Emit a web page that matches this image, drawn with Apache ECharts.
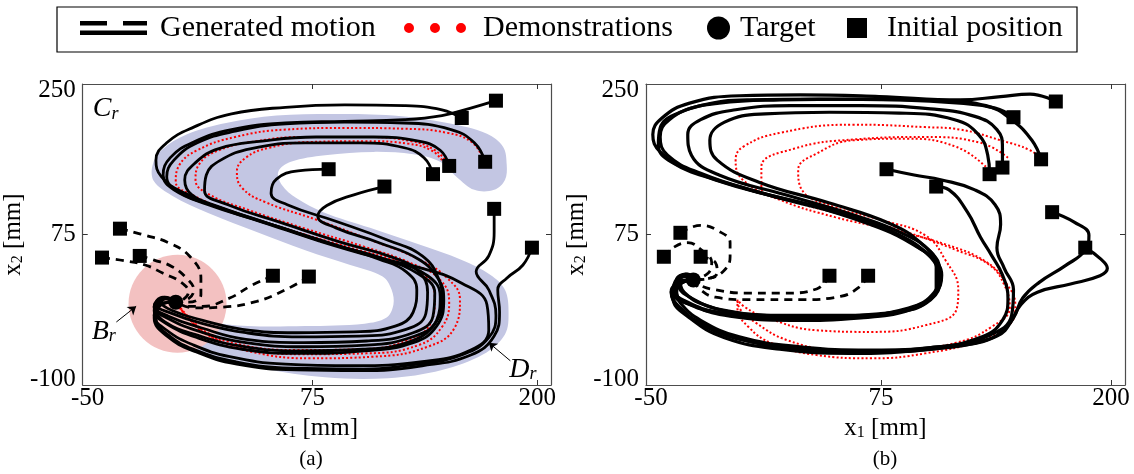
<!DOCTYPE html>
<html><head><meta charset="utf-8">
<script src="https://cdn.jsdelivr.net/npm/echarts@6/dist/echarts.min.js"></script>
<style>html,body{margin:0;padding:0;background:#fff}#c{width:1134px;height:474px}</style>
</head><body><div id="c"></div>
<script>
// ---------- axes ----------
const xTickLabels = [-50, 75, 200];
const yTickLabels = [-100, 75, 250];
const xTickMarks = [75, 200];
const yTickMarks = [75];
const xRange = [-52.7, 207.6];
const yRange = [-107.3, 257.2];

// ---------- panel (a) ----------
const bandA = [[183,159],[181,181],[172,197],[150,210],[120,219],[88,221],[55,219],[27,210],[5,196],[-9,177],[-14,158],[-13,139],[-3,122],[17,101],[44,78],[71,56],[96,38],[114,24],[119,8],[120,-10],[116,-26],[104,-33],[71,-36],[39,-36],[17,-31],[6,-26],[2,-41],[6,-59],[20,-72],[47,-87],[82,-98],[117,-99],[147,-89],[170,-70],[182,-46],[184,-19],[182,8],[174,26],[158,44],[134,63],[107,83],[81,102],[66,119],[58,135],[56,151],[63,163],[82,171],[109,175],[131,172],[146,163],[155,145],[165,129],[176,129],[182,141]];
const regionBA = [[0,-9]];
const targetA = [[-1,-7]];
const startsA = [[177,237],[158,216],[171,163],[151,158],[142,148],[84,154],[115,133],[176,106],[197,59],[-32,82],[-42,47],[-21,49],[53,25],[73,24]];

const genA1 = [[177,237],[163,228],[147,219],[126,214],[93,212],[60,210],[30,202],[9,187],[-4,168],[-8,147],[-2,129],[17,111],[47,90],[79,67],[109,48],[136,34],[158,16],[172,-10],[173,-41],[163,-65],[136,-79],[98,-84],[60,-82],[29,-73],[9,-59],[-6,-41],[-13,-23],[-9,-8],[-1,-7]];
const genA2 = [[158,216],[147,226],[126,231],[93,232],[60,229],[30,221],[9,205],[-6,186],[-12,165],[-9,145],[3,126],[25,107],[55,85],[88,62],[112,45],[127,30],[133,8],[131,-19],[121,-36],[98,-43],[66,-44],[36,-40],[14,-29],[-3,-17],[-9,-7],[-5,-2],[-1,-7]];
const genA3 = [[171,163],[165,186],[152,202],[126,210],[93,211],[60,209],[32,200],[11,186],[-2,165],[-6,145],[1,126],[20,110],[51,88],[83,65],[112,47],[134,27],[143,4],[142,-24],[131,-44],[105,-54],[70,-56],[38,-52],[13,-38],[-5,-24],[-13,-12],[-8,-1],[-1,-7]];
const genA4 = [[151,158],[146,177],[134,188],[109,193],[77,193],[47,188],[23,179],[10,162],[4,141],[8,123],[25,106],[55,85],[88,62],[117,44],[139,25],[146,0],[144,-29],[132,-48],[105,-59],[70,-61],[38,-56],[13,-43],[-5,-27],[-13,-13],[-8,-2],[-1,-7]];
const genA5 = [[142,148],[137,168],[126,180],[102,186],[71,186],[41,179],[24,165],[16,147],[15,128],[28,111],[58,89],[90,66],[120,47],[134,30],[139,5],[138,-21],[127,-40],[101,-48],[68,-49],[38,-44],[14,-33],[-4,-20],[-12,-10],[-7,-1],[-1,-7]];
const genA6 = [[84,154],[67,152],[55,142],[52,125],[61,111],[88,91],[117,68],[136,49],[145,22],[147,-4],[143,-33],[130,-54],[103,-64],[67,-66],[35,-60],[11,-47],[-7,-31],[-12,-15],[-7,-2],[-1,-7]];
const genA7 = [[115,133],[98,123],[83,110],[78,97],[88,83],[112,65],[134,45],[145,21],[148,-4],[144,-36],[131,-56],[104,-66],[68,-69],[36,-64],[11,-50],[-7,-32],[-13,-17],[-7,-3],[-1,-7]];
const genA8 = [[176,106],[176,78],[173,49],[166,30],[173,8],[177,-23],[173,-50],[159,-70],[134,-82],[98,-88],[63,-87],[32,-79],[10,-65],[-5,-47],[-12,-26],[-9,-10],[-1,-7]];
const genA9 = [[197,59],[192,38],[183,22],[178,8],[179,-19],[176,-48],[163,-71],[136,-84],[101,-90],[66,-89],[33,-82],[10,-67],[-6,-48],[-13,-26],[-10,-10],[-1,-7]];

const dashA1 = [[-32,82],[-18,74],[-5,65],[7,48],[13,22],[13,2],[6,-7],[-1,-7]];
const dashA2 = [[-42,47],[-29,43],[-18,38],[-8,28],[2,17],[6,5],[3,-4],[-1,-7]];
const dashA3 = [[-21,49],[-13,44],[-3,36],[5,22],[9,8],[6,-3],[-1,-7]];
const dashA4 = [[53,25],[41,13],[29,-2],[14,-12],[5,-12],[-1,-7]];
const dashA5 = [[73,24],[60,8],[44,-6],[25,-13],[9,-14],[-1,-7]];

const demoA1 = [[170,165],[164,186],[150,198],[126,203],[93,204],[60,202],[32,193],[11,177],[1,159],[-1,139],[9,122],[30,103],[63,80],[96,59],[123,42],[138,24],[143,-2],[141,-31],[128,-53],[101,-64],[66,-65],[34,-58],[14,-41],[5,-24],[-1,-7]];
const demoA2 = [[150,162],[143,177],[130,188],[104,193],[71,193],[44,188],[23,177],[12,160],[10,141],[18,123],[39,105],[71,82],[104,60],[130,40],[146,20],[151,-7],[147,-37],[134,-59],[105,-69],[68,-70],[36,-62],[16,-46],[6,-26],[-1,-7]];
const demoA3 = [[147,165],[141,177],[128,185],[104,188],[74,187],[51,180],[38,168],[33,151],[36,131],[49,114],[77,93],[109,67],[134,45],[150,22],[157,-4],[154,-38],[139,-61],[109,-73],[74,-75],[41,-67],[20,-50],[8,-29],[-1,-7]];

const annotA = [{main:'C', sub:'r', at:[-40,228]}, {main:'B', sub:'r', at:[-41,-41]}, {main:'D', sub:'r', at:[192,-87]}];
const arrowsA = [[[-34,-31],[-23,-12]], [[185,-78],[173,-56]]];

// ---------- panel (b) ----------
const targetB = [[-27,20]];
const startsB = [[170,236],[147,217],[162,166],[141,156],[134,148],[78,154],[105,133],[168,102],[186,59],[-34,77],[-43,48],[-23,48],[47,25],[68,25]];

const genB1 = [[170,236],[156,245],[140,242],[118,238],[74,242],[31,244],[-2,243],[-29,234],[-44,216],[-49,196],[-45,175],[-29,153],[4,129],[42,107],[74,83],[93,62],[104,42],[107,20],[102,-4],[85,-19],[53,-25],[15,-25],[-13,-20],[-29,-10],[-38,5],[-36,21],[-31,26],[-27,20]];
const genB2 = [[147,217],[137,228],[118,234],[85,238],[42,239],[4,238],[-23,231],[-40,214],[-45,193],[-41,171],[-23,149],[9,126],[47,105],[77,82],[95,60],[105,38],[106,14],[99,-7],[80,-20],[47,-26],[12,-26],[-14,-19],[-30,-7],[-38,8],[-35,22],[-30,27],[-27,20]];
const genB3 = [[162,166],[157,189],[146,214],[132,231],[107,237],[64,239],[20,238],[-13,234],[-34,223],[-45,204],[-46,183],[-39,163],[-15,141],[20,119],[58,97],[85,74],[101,50],[108,26],[104,2],[91,-16],[64,-26],[26,-29],[-7,-24],[-26,-12],[-36,4],[-36,20],[-31,27],[-27,20]];
const genB4 = [[141,156],[141,180],[138,202],[126,218],[102,227],[64,231],[26,231],[-4,226],[-23,214],[-30,196],[-28,171],[-13,147],[23,123],[61,98],[87,76],[102,54],[107,30],[104,5],[90,-14],[58,-23],[20,-23],[-10,-17],[-28,-2],[-35,14],[-32,24],[-27,20]];
const genB5 = [[134,148],[133,171],[128,196],[115,214],[85,222],[47,223],[12,221],[-10,211],[-18,189],[-14,165],[9,138],[47,113],[80,88],[97,64],[105,38],[105,10],[96,-10],[74,-21],[36,-24],[1,-21],[-21,-10],[-32,5],[-34,18],[-27,20]];
const genB6 = [[78,154],[93,147],[108,141],[126,129],[137,111],[140,87],[138,59],[142,34],[147,8],[146,-23],[134,-47],[107,-61],[69,-65],[31,-61],[-2,-49],[-23,-29],[-34,-8],[-37,8],[-32,18],[-27,20]];
const genB7 = [[105,133],[112,129],[122,102],[129,72],[135,50],[141,26],[144,-2],[141,-29],[130,-49],[102,-62],[64,-66],[26,-62],[-4,-50],[-24,-31],[-36,-11],[-39,6],[-33,18],[-27,20]];
const genB8 = [[168,102],[180,90],[188,74],[186,56],[175,37],[161,17],[152,-2],[147,-26],[138,-48],[113,-61],[74,-67],[36,-65],[4,-55],[-21,-36],[-34,-14],[-39,5],[-33,17],[-27,20]];
const genB9 = [[186,59],[194,46],[198,34],[194,25],[178,15],[160,5],[151,-10],[144,-35],[132,-53],[96,-65],[58,-69],[20,-64],[-10,-50],[-29,-26],[-38,-2],[-34,15],[-27,20]];

const dashB1 = [[-34,77],[-23,86],[-14,80],[-7,65],[-7,48],[-10,32],[-18,22],[-27,20]];
const dashB2 = [[-43,48],[-38,59],[-30,65],[-23,57],[-17,41],[-19,28],[-27,20]];
const dashB3 = [[-23,48],[-15,41],[-14,29],[-20,21],[-27,20]];
const dashB4 = [[47,25],[40,9],[23,4],[1,4],[-15,8],[-23,13],[-27,20]];
const dashB5 = [[68,25],[63,11],[53,0],[31,-4],[4,-4],[-15,-1],[-23,8],[-27,20]];

const demoB1 = [[162,166],[156,177],[140,189],[118,202],[99,205],[60,208],[20,198],[0,181],[-4,165],[0,141],[20,117],[50,96],[80,81],[110,63],[132,42],[143,16],[148,-11],[146,-31],[129,-53],[99,-69],[70,-75],[40,-71],[16,-57],[3,-37],[-3,-14],[-3,-4]];
const demoB2 = [[144,168],[129,186],[99,193],[60,190],[28,179],[10,157],[10,132],[24,117],[60,96],[90,77],[116,56],[134,38],[142,14],[145,-13],[135,-37],[116,-56],[80,-67],[50,-65],[24,-53],[7,-32],[-2,-14],[-3,-4]];
const demoB3 = [[132,157],[116,181],[90,191],[60,189],[40,173],[30,153],[32,129],[50,108],[76,92],[99,74],[110,44],[117,8],[116,-16],[99,-35],[70,-43],[40,-41],[12,-25],[1,-13],[-3,-4]];

// ---------- build ----------
const FONT = 'Liberation Serif';
const ICON_GEN = 'path://M0,0H27V4.5H0Z M43,0H67V4.5H43Z M0,9.5H67V14H0Z';
const ICON_DOTS = 'path://M0,5A5,5,0,1,1,10,5A5,5,0,1,1,0,5Z M26,5A5,5,0,1,1,36,5A5,5,0,1,1,26,5Z M52,5A5,5,0,1,1,62,5A5,5,0,1,1,52,5Z';

const nameRich = {
  a: {fontFamily: FONT, fontSize: 25, color: '#000', verticalAlign: 'bottom', lineHeight: 28},
  b: {fontFamily: FONT, fontSize: 16, color: '#000', verticalAlign: 'bottom', lineHeight: 13}
};
const axisLineStyle = {color: '#4d4d4d', width: 1.2};

function makeX(g) {
  return [
    {gridIndex: g, type: 'value', min: xRange[0], max: xRange[1], position: 'bottom',
     axisLine: {show: true, onZero: false, lineStyle: axisLineStyle},
     axisTick: {show: true, inside: true, length: 5, customValues: xTickMarks, lineStyle: {color: '#333'}},
     axisLabel: {show: true, customValues: xTickLabels, margin: 1, color: '#000', fontFamily: FONT, fontSize: 25},
     splitLine: {show: false},
     name: '{a|x}{b|1}{a| [mm]}', nameLocation: 'middle', nameGap: 16,
     nameTextStyle: {rich: nameRich}},
    {gridIndex: g, type: 'value', min: xRange[0], max: xRange[1], position: 'top',
     axisLine: {show: true, onZero: false, lineStyle: axisLineStyle},
     axisTick: {show: true, inside: true, length: 5, customValues: xTickMarks, lineStyle: {color: '#333'}},
     axisLabel: {show: false}, splitLine: {show: false}}
  ];
}
function makeY(g) {
  return [
    {gridIndex: g, type: 'value', min: yRange[0], max: yRange[1], position: 'left',
     axisLine: {show: true, onZero: false, lineStyle: axisLineStyle},
     axisTick: {show: true, inside: true, length: 5, customValues: yTickMarks, lineStyle: {color: '#333'}},
     axisLabel: {show: true, customValues: yTickLabels, margin: 7, color: '#000', fontFamily: FONT, fontSize: 25},
     splitLine: {show: false},
     name: '{a|x}{b|2}{a| [mm]}', nameLocation: 'middle', nameGap: 33,
     nameTextStyle: {rich: nameRich}},
    {gridIndex: g, type: 'value', min: yRange[0], max: yRange[1], position: 'right',
     axisLine: {show: true, onZero: false, lineStyle: axisLineStyle},
     axisTick: {show: true, inside: true, length: 5, customValues: yTickMarks, lineStyle: {color: '#333'}},
     axisLabel: {show: false}, splitLine: {show: false}}
  ];
}

function line(name, data, ax, style, z) {
  return {type: 'line', name: name, data: data, xAxisIndex: ax, yAxisIndex: ax,
    symbol: 'none', smooth: 0.45, silent: true, z: z, lineStyle: style, itemStyle: {color: style.color}};
}
const solidA = {color: '#000', width: 2.8};
const solidB = {color: '#000', width: 3.2};
const dashed = {color: '#000', width: 2.8, type: [8, 6]};
const dotted = {color: '#ff0000', width: 2, type: [2, 2.2]};

const series = [];
series.push({type: 'custom', name: 'band', xAxisIndex: 0, yAxisIndex: 0, data: [[0, 0]], silent: true, z: 1, clip: true,
  renderItem: function (params, api) {
    return {type: 'polygon', shape: {points: bandA.map(function (d) { return api.coord(d); }), smooth: 0.35},
      style: {fill: '#c3c6e3'}};
  }});
series.push({type: 'scatter', name: 'region', xAxisIndex: 0, yAxisIndex: 0, data: regionBA, symbol: 'circle',
  symbolSize: 98, itemStyle: {color: '#f3c1c1', opacity: 1}, silent: true, z: 2});

[demoA1, demoA2, demoA3].forEach(function (d) { series.push(line('Demonstrations', d, 0, dotted, 3)); });
[genA1, genA2, genA3, genA4, genA5, genA6, genA7, genA8, genA9].forEach(function (d) { series.push(line('Generated motion', d, 0, solidA, 4)); });
[dashA1, dashA2, dashA3, dashA4, dashA5].forEach(function (d) { series.push(line('Generated motion', d, 0, dashed, 4)); });

[demoB1, demoB2, demoB3].forEach(function (d) { series.push(line('Demonstrations', d, 2, dotted, 3)); });
[genB1, genB2, genB3, genB4, genB5, genB6, genB7, genB8, genB9].forEach(function (d) { series.push(line('Generated motion', d, 2, solidB, 4)); });
[dashB1, dashB2, dashB3, dashB4, dashB5].forEach(function (d) { series.push(line('Generated motion', d, 2, dashed, 4)); });

const markStyle = {color: '#000', opacity: 1};
series.push({type: 'scatter', name: 'Initial position', xAxisIndex: 0, yAxisIndex: 0, data: startsA, symbol: 'rect', symbolSize: 14, itemStyle: markStyle, silent: true, z: 5});
series.push({type: 'scatter', name: 'Initial position', xAxisIndex: 2, yAxisIndex: 2, data: startsB, symbol: 'rect', symbolSize: 14, itemStyle: markStyle, silent: true, z: 5});
series.push({type: 'scatter', name: 'Target', xAxisIndex: 0, yAxisIndex: 0, data: targetA, symbol: 'circle', symbolSize: 15, itemStyle: markStyle, silent: true, z: 6});
series.push({type: 'scatter', name: 'Target', xAxisIndex: 2, yAxisIndex: 2, data: targetB, symbol: 'circle', symbolSize: 15, itemStyle: markStyle, silent: true, z: 6});

series.push({type: 'scatter', name: 'annot', xAxisIndex: 0, yAxisIndex: 0, symbolSize: 1, silent: true, z: 7,
  itemStyle: {color: 'rgba(0,0,0,0)', opacity: 1},
  data: annotA.map(function (a) { return {value: a.at, label: {formatter: '{m|' + a.main + '}{s|' + a.sub + '}'}}; }),
  label: {show: true, position: 'inside', color: '#000', opacity: 1,
    rich: {m: {fontFamily: FONT, fontStyle: 'italic', fontSize: 28, color: '#000', verticalAlign: 'bottom', lineHeight: 30},
           s: {fontFamily: FONT, fontStyle: 'italic', fontSize: 18, color: '#000', verticalAlign: 'bottom', lineHeight: 14}}},
  markLine: {silent: true, symbol: ['none', 'arrow'], symbolSize: 8, label: {show: false},
    lineStyle: {color: '#000', width: 1, type: 'solid', opacity: 1},
    data: arrowsA.map(function (a) { return [{coord: a[0]}, {coord: a[1]}]; })}});

const legendBase = {top: 13, padding: 0, selectedMode: false, formatter: '{t|{name}}'};
function legendAt(left, w, h, item, gap) {
  return Object.assign({}, legendBase, {left: left, itemWidth: w, itemHeight: h, data: [item],
    textStyle: {rich: {t: {fontFamily: FONT, fontSize: 30, color: '#000', padding: [0, 0, 0, gap]}}}});
}

const option = {
  animation: false,
  backgroundColor: '#fff',
  textStyle: {fontFamily: FONT},
  grid: [
    {left: 72, top: 84, width: 479, height: 301, containLabel: false},
    {left: 646, top: 84, width: 479, height: 301, containLabel: false}
  ],
  xAxis: makeX(0).concat(makeX(1)),
  yAxis: makeY(0).concat(makeY(1)),
  legend: [
    legendAt(80, 67, 14, {name: 'Generated motion', icon: ICON_GEN, itemStyle: {color: '#000', borderWidth: 0, opacity: 1}}, 8),
    legendAt(404, 62, 10, {name: 'Demonstrations', icon: ICON_DOTS, itemStyle: {color: '#ff0000', borderWidth: 0, opacity: 1}}, 12),
    legendAt(707, 23, 23, {name: 'Target', icon: 'circle', itemStyle: {color: '#000', borderWidth: 0, opacity: 1}}, 5),
    legendAt(847, 20, 20, {name: 'Initial position', icon: 'rect', itemStyle: {color: '#000', borderWidth: 0, opacity: 1}}, 15)
  ],
  graphic: [
    {type: 'rect', silent: true, shape: {x: 57, y: 7, width: 1020, height: 45}, style: {fill: 'none', stroke: '#000', lineWidth: 1.2}},
    {type: 'text', silent: true, x: 311, y: 459, style: {text: '(a)', font: '21px "Liberation Serif"', align: 'center', verticalAlign: 'middle', fill: '#000'}},
    {type: 'text', silent: true, x: 885, y: 459, style: {text: '(b)', font: '21px "Liberation Serif"', align: 'center', verticalAlign: 'middle', fill: '#000'}}
  ],
  series: series
};

const chart = echarts.init(document.getElementById('c'), null, {renderer: 'canvas'});
chart.setOption(option);
</script>
</body></html>
